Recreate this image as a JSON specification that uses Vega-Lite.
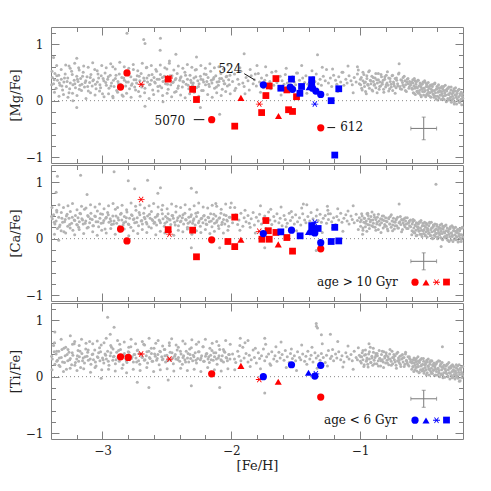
{
  "$schema": "https://vega.github.io/schema/vega-lite/v6.json",
  "padding": {"left": 8, "top": 26, "right": 10, "bottom": 10},
  "spacing": 2,
  "bounds": "flush",
  "resolve": {"legend": {"shape": "independent", "size": "independent"}},
  "config": {
    "view": {"stroke": "#808080", "strokeWidth": 1},
    "axis": {"domain": false, "grid": false, "tickColor": "#808080", "tickWidth": 1, "labelFont": "DejaVu Serif", "labelFontSize": 12, "labelColor": "#222222", "titleFont": "DejaVu Serif", "titleFontSize": 13, "titleFontWeight": "normal", "titleColor": "#222222"},
    "legend": {"columnPadding": 3, "rowPadding": 0, "labelOffset": 0, "symbolOffset": 0},
    "font": "DejaVu Serif"
  },
  "datasets": {
    "gray": [
      {"x":-3.39,"m":0.41,"c":0.35,"t":0.31},{"x":-3.38,"m":0.30,"c":0.42,"t":0.55},{"x":-3.37,"m":0.48,"c":0.26,"t":0.22},{"x":-3.36,"m":0.22,"c":0.31,"t":0.40},{"x":-3.35,"m":0.36,"c":0.18,"t":0.29},{"x":-3.34,"m":0.45,"c":0.38,"t":0.45},{"x":-3.33,"m":0.27,"c":0.24,"t":0.18},{"x":-3.32,"m":0.38,"c":0.46,"t":0.34},{"x":-3.31,"m":0.19,"c":0.29,"t":0.26},{"x":-3.30,"m":0.33,"c":0.12,"t":0.50},
      {"x":-3.29,"m":0.47,"c":0.34,"t":0.37},{"x":-3.28,"m":0.25,"c":0.40,"t":0.13},{"x":-3.27,"m":0.40,"c":0.22,"t":0.28},{"x":-3.26,"m":0.14,"c":0.36,"t":0.43},{"x":-3.25,"m":0.31,"c":0.48,"t":0.32},{"x":-3.24,"m":0.52,"c":0.27,"t":0.21},{"x":-3.23,"m":0.28,"c":0.15,"t":0.38},{"x":-3.22,"m":0.36,"c":0.33,"t":0.58},{"x":-3.21,"m":0.23,"c":0.41,"t":0.25},{"x":-3.20,"m":0.43,"c":0.25,"t":0.31},
      {"x":-3.19,"m":0.34,"c":0.37,"t":0.46},{"x":-3.185,"m":0.58,"c":0.20,"t":0.27},{"x":-3.18,"m":0.20,"c":0.30,"t":0.35},{"x":-3.17,"m":0.39,"c":0.44,"t":0.16},{"x":-3.16,"m":0.29,"c":0.35,"t":0.41},{"x":-3.15,"m":0.50,"c":0.26,"t":0.33},{"x":-3.14,"m":0.24,"c":0.52,"t":0.24},{"x":-3.13,"m":0.35,"c":0.31,"t":0.49},{"x":-3.12,"m":0.42,"c":0.19,"t":0.36},{"x":-3.11,"m":0.17,"c":0.39,"t":0.29},
      {"x":-3.10,"m":0.32,"c":0.28,"t":0.62},{"x":-3.09,"m":0.46,"c":0.45,"t":0.22},{"x":-3.08,"m":0.26,"c":0.34,"t":0.39},{"x":-3.07,"m":0.37,"c":0.23,"t":0.30},{"x":-3.06,"m":0.55,"c":0.40,"t":0.47},{"x":-3.05,"m":0.21,"c":0.30,"t":0.19},{"x":-3.04,"m":0.33,"c":0.49,"t":0.35},{"x":-3.03,"m":0.40,"c":0.21,"t":0.42},{"x":-3.02,"m":0.28,"c":0.36,"t":0.28},{"x":-3.01,"m":0.44,"c":0.27,"t":0.56},
      {"x":-3.00,"m":0.12,"c":0.43,"t":0.33},{"x":-2.99,"m":0.35,"c":0.32,"t":0.24},{"x":-2.98,"m":0.49,"c":0.17,"t":0.40},{"x":-2.97,"m":0.27,"c":0.38,"t":0.31},{"x":-2.96,"m":0.38,"c":0.46,"t":0.45},{"x":-2.95,"m":0.22,"c":0.29,"t":0.20},{"x":-2.94,"m":0.45,"c":0.35,"t":0.37},{"x":-2.93,"m":0.31,"c":0.25,"t":0.52},{"x":-2.92,"m":0.60,"c":0.40,"t":0.29},{"x":-2.91,"m":0.25,"c":0.31,"t":0.36},
      {"x":-2.90,"m":0.39,"c":0.52,"t":0.23},{"x":-2.89,"m":0.18,"c":0.27,"t":0.43},{"x":-2.88,"m":0.34,"c":0.37,"t":0.34},{"x":-2.87,"m":0.47,"c":0.22,"t":0.27},{"x":-2.86,"m":0.29,"c":0.43,"t":0.48},{"x":-2.85,"m":0.41,"c":0.33,"t":0.38},{"x":-2.84,"m":0.08,"c":0.24,"t":0.21},{"x":-2.83,"m":0.36,"c":0.39,"t":0.41},{"x":-2.82,"m":0.26,"c":0.30,"t":0.32},{"x":-2.81,"m":0.51,"c":0.47,"t":0.25},
      {"x":-2.80,"m":0.33,"c":0.26,"t":0.44},{"x":-2.79,"m":0.21,"c":0.36,"t":0.30},{"x":-2.78,"m":0.42,"c":0.20,"t":0.53},{"x":-2.77,"m":0.30,"c":0.41,"t":0.35},{"x":-2.76,"m":0.55,"c":0.34,"t":0.26},{"x":-2.75,"m":0.24,"c":0.28,"t":0.39},{"x":-2.74,"m":0.37,"c":0.50,"t":0.33},{"x":-2.73,"m":0.44,"c":0.37,"t":0.46},{"x":-2.72,"m":0.16,"c":0.23,"t":0.28},{"x":-2.71,"m":0.35,"c":0.42,"t":0.22},
      {"x":-2.70,"m":0.48,"c":0.31,"t":0.40},{"x":-2.69,"m":0.27,"c":0.26,"t":0.34},{"x":-2.68,"m":0.40,"c":0.45,"t":0.57},{"x":-2.67,"m":0.22,"c":0.35,"t":0.30},{"x":-2.66,"m":0.58,"c":0.29,"t":0.37},{"x":-2.65,"m":0.33,"c":0.40,"t":0.24},{"x":-2.64,"m":0.45,"c":0.21,"t":0.45},{"x":-2.63,"m":0.29,"c":0.36,"t":0.32},{"x":-2.62,"m":0.36,"c":0.48,"t":0.41},{"x":-2.61,"m":0.19,"c":0.32,"t":0.27},
      {"x":-2.60,"m":0.41,"c":0.27,"t":0.50},{"x":-2.59,"m":0.31,"c":0.38,"t":0.36},{"x":-2.58,"m":0.52,"c":0.24,"t":0.29},{"x":-2.57,"m":0.25,"c":0.43,"t":0.39},{"x":-2.56,"m":0.38,"c":0.33,"t":0.21},{"x":-2.55,"m":0.46,"c":0.28,"t":0.44},{"x":-2.54,"m":0.23,"c":0.51,"t":0.35},{"x":-2.53,"m":0.34,"c":0.35,"t":0.31},{"x":-2.52,"m":0.43,"c":0.22,"t":0.48},{"x":-2.51,"m":0.30,"c":0.39,"t":0.26},
      {"x":-2.50,"m":0.56,"c":0.30,"t":0.38},{"x":-2.49,"m":0.20,"c":0.44,"t":0.33},{"x":-2.48,"m":0.37,"c":0.34,"t":0.55},{"x":-2.47,"m":0.28,"c":0.25,"t":0.29},{"x":-2.46,"m":0.44,"c":0.41,"t":0.42},{"x":-2.45,"m":0.33,"c":0.36,"t":0.23},{"x":-2.44,"m":0.15,"c":0.29,"t":0.36},{"x":-2.43,"m":0.39,"c":0.47,"t":0.31},{"x":-2.42,"m":0.48,"c":0.32,"t":0.47},{"x":-2.41,"m":0.26,"c":0.23,"t":0.34},
      {"x":-2.40,"m":0.36,"c":0.40,"t":0.27},{"x":-2.39,"m":0.42,"c":0.31,"t":0.40},{"x":-2.38,"m":0.24,"c":0.37,"t":0.22},{"x":-2.37,"m":0.33,"c":0.26,"t":0.37},{"x":-2.36,"m":0.50,"c":0.45,"t":0.30},{"x":-2.35,"m":0.29,"c":0.33,"t":0.45},{"x":-2.34,"m":0.38,"c":0.20,"t":0.33},{"x":-2.33,"m":0.21,"c":0.38,"t":0.26},{"x":-2.32,"m":0.45,"c":0.30,"t":0.39},{"x":-2.31,"m":0.32,"c":0.42,"t":0.51},
      {"x":-2.30,"m":0.27,"c":0.27,"t":0.28},{"x":-2.29,"m":0.40,"c":0.35,"t":0.35},{"x":-2.28,"m":0.54,"c":0.24,"t":0.42},{"x":-2.27,"m":0.23,"c":0.39,"t":0.24},{"x":-2.26,"m":0.35,"c":0.46,"t":0.32},{"x":-2.25,"m":0.30,"c":0.31,"t":0.44},{"x":-2.24,"m":0.43,"c":0.22,"t":0.30},{"x":-2.23,"m":0.18,"c":0.36,"t":0.37},{"x":-2.22,"m":0.37,"c":0.28,"t":0.53},{"x":-2.21,"m":0.47,"c":0.41,"t":0.27},
      {"x":-2.20,"m":0.28,"c":0.33,"t":0.36},{"x":-2.19,"m":0.34,"c":0.25,"t":0.41},{"x":-2.18,"m":0.41,"c":0.38,"t":0.31},{"x":-2.17,"m":0.25,"c":0.30,"t":0.25},{"x":-2.16,"m":0.52,"c":0.44,"t":0.38},{"x":-2.15,"m":0.31,"c":0.21,"t":0.46},{"x":-2.14,"m":0.38,"c":0.35,"t":0.29},{"x":-2.13,"m":0.22,"c":0.27,"t":0.35},{"x":-2.12,"m":0.44,"c":0.40,"t":0.42},{"x":-2.11,"m":0.33,"c":0.32,"t":0.22},
      {"x":-2.10,"m":0.27,"c":0.23,"t":0.33},{"x":-2.09,"m":0.39,"c":0.37,"t":0.48},{"x":-2.08,"m":0.48,"c":0.45,"t":0.30},{"x":-2.07,"m":0.20,"c":0.29,"t":0.37},{"x":-2.06,"m":0.35,"c":0.34,"t":0.26},{"x":-2.05,"m":0.30,"c":0.26,"t":0.43},{"x":-2.04,"m":0.42,"c":0.41,"t":0.34},{"x":-2.03,"m":0.26,"c":0.31,"t":0.28},{"x":-2.02,"m":0.37,"c":0.22,"t":0.39},{"x":-2.01,"m":0.45,"c":0.38,"t":0.31},
      {"x":-3.395,"m":0.28,"c":0.39,"t":0.36},{"x":-3.375,"m":0.37,"c":0.29,"t":0.44},{"x":-3.355,"m":0.44,"c":0.47,"t":0.27},{"x":-3.335,"m":0.31,"c":0.21,"t":0.33},{"x":-3.315,"m":0.26,"c":0.36,"t":0.48},{"x":-3.295,"m":0.40,"c":0.30,"t":0.25},{"x":-3.275,"m":0.34,"c":0.43,"t":0.39},{"x":-3.255,"m":0.21,"c":0.25,"t":0.30},{"x":-3.235,"m":0.46,"c":0.38,"t":0.42},{"x":-3.215,"m":0.30,"c":0.32,"t":0.20},
      {"x":-3.195,"m":0.38,"c":0.24,"t":0.37},{"x":-3.175,"m":0.27,"c":0.45,"t":0.45},{"x":-3.155,"m":0.43,"c":0.33,"t":0.28},{"x":-3.135,"m":0.32,"c":0.27,"t":0.35},{"x":-3.115,"m":0.25,"c":0.41,"t":0.43},{"x":-3.095,"m":0.41,"c":0.35,"t":0.31},{"x":-3.075,"m":0.35,"c":0.23,"t":0.40},{"x":-3.055,"m":0.29,"c":0.39,"t":0.26},{"x":-3.035,"m":0.47,"c":0.30,"t":0.34},{"x":-3.015,"m":0.23,"c":0.44,"t":0.44},
      {"x":-2.995,"m":0.39,"c":0.28,"t":0.30},{"x":-2.975,"m":0.32,"c":0.36,"t":0.38},{"x":-2.955,"m":0.42,"c":0.42,"t":0.27},{"x":-2.935,"m":0.26,"c":0.31,"t":0.42},{"x":-2.915,"m":0.36,"c":0.26,"t":0.35},{"x":-2.895,"m":0.45,"c":0.40,"t":0.30},{"x":-2.875,"m":0.30,"c":0.33,"t":0.46},{"x":-2.855,"m":0.23,"c":0.45,"t":0.33},{"x":-2.835,"m":0.40,"c":0.28,"t":0.37},{"x":-2.815,"m":0.33,"c":0.37,"t":0.28},
      {"x":-2.795,"m":0.48,"c":0.25,"t":0.43},{"x":-2.775,"m":0.27,"c":0.42,"t":0.32},{"x":-2.755,"m":0.37,"c":0.35,"t":0.39},{"x":-2.735,"m":0.31,"c":0.29,"t":0.26},{"x":-2.715,"m":0.43,"c":0.46,"t":0.41},{"x":-2.695,"m":0.24,"c":0.32,"t":0.35},{"x":-2.675,"m":0.35,"c":0.38,"t":0.29},{"x":-2.655,"m":0.40,"c":0.26,"t":0.44},{"x":-2.635,"m":0.28,"c":0.43,"t":0.34},{"x":-2.615,"m":0.46,"c":0.34,"t":0.27},
      {"x":-2.595,"m":0.33,"c":0.29,"t":0.40},{"x":-2.575,"m":0.38,"c":0.40,"t":0.32},{"x":-2.555,"m":0.26,"c":0.31,"t":0.45},{"x":-2.535,"m":0.41,"c":0.44,"t":0.30},{"x":-2.515,"m":0.35,"c":0.27,"t":0.37},{"x":-2.495,"m":0.29,"c":0.36,"t":0.28},{"x":-2.475,"m":0.44,"c":0.33,"t":0.43},{"x":-2.455,"m":0.32,"c":0.41,"t":0.33},{"x":-2.435,"m":0.37,"c":0.24,"t":0.39},{"x":-2.415,"m":0.22,"c":0.37,"t":0.30},
      {"x":-2.395,"m":0.40,"c":0.30,"t":0.45},{"x":-2.375,"m":0.34,"c":0.42,"t":0.34},{"x":-2.355,"m":0.45,"c":0.34,"t":0.26},{"x":-2.335,"m":0.27,"c":0.27,"t":0.41},{"x":-2.315,"m":0.36,"c":0.39,"t":0.32},{"x":-2.295,"m":0.31,"c":0.32,"t":0.38},{"x":-2.275,"m":0.42,"c":0.45,"t":0.29},{"x":-2.255,"m":0.25,"c":0.28,"t":0.44},{"x":-2.235,"m":0.38,"c":0.35,"t":0.33},{"x":-2.215,"m":0.33,"c":0.40,"t":0.27},
      {"x":-2.195,"m":0.46,"c":0.26,"t":0.40},{"x":-2.175,"m":0.29,"c":0.37,"t":0.35},{"x":-2.155,"m":0.36,"c":0.31,"t":0.30},{"x":-2.135,"m":0.41,"c":0.43,"t":0.42},{"x":-2.115,"m":0.24,"c":0.29,"t":0.31},{"x":-2.095,"m":0.34,"c":0.36,"t":0.37},{"x":-2.075,"m":0.39,"c":0.25,"t":0.28},{"x":-2.055,"m":0.30,"c":0.42,"t":0.45},{"x":-2.035,"m":0.43,"c":0.33,"t":0.33},{"x":-2.015,"m":0.28,"c":0.38,"t":0.39},
      {"x":-3.392,"m":0.52,"c":0.55,"t":0.12},{"x":-3.373,"m":0.15,"c":0.08,"t":0.60},{"x":-3.356,"m":0.62,"c":0.50,"t":0.45},{"x":-3.338,"m":0.08,"c":0.60,"t":0.20},{"x":-3.321,"m":0.55,"c":0.14,"t":0.66},{"x":-3.303,"m":0.11,"c":0.55,"t":0.09},{"x":-3.286,"m":0.63,"c":0.10,"t":0.52},{"x":-3.268,"m":0.06,"c":0.58,"t":0.48},{"x":-3.251,"m":0.57,"c":0.19,"t":0.15},{"x":-3.233,"m":0.13,"c":0.62,"t":0.57},
      {"x":-3.216,"m":0.66,"c":0.07,"t":0.62},{"x":-3.198,"m":0.09,"c":0.51,"t":0.11},{"x":-3.181,"m":0.54,"c":0.16,"t":0.55},{"x":-3.163,"m":0.18,"c":0.57,"t":0.66},{"x":-3.146,"m":0.61,"c":0.09,"t":0.14},{"x":-3.128,"m":0.04,"c":0.54,"t":0.59},{"x":-3.111,"m":0.59,"c":0.20,"t":0.47},{"x":-3.093,"m":0.14,"c":0.60,"t":0.08},{"x":-3.076,"m":0.67,"c":0.12,"t":0.58},{"x":-3.058,"m":0.10,"c":0.56,"t":0.16},
      {"x":-3.041,"m":0.53,"c":0.06,"t":0.63},{"x":-3.023,"m":0.17,"c":0.61,"t":0.51},{"x":-3.006,"m":0.62,"c":0.15,"t":0.12},{"x":-2.988,"m":0.07,"c":0.53,"t":0.60},{"x":-2.971,"m":0.58,"c":0.10,"t":0.68},{"x":-2.953,"m":0.12,"c":0.58,"t":0.13},{"x":-2.936,"m":0.65,"c":0.18,"t":0.55},{"x":-2.918,"m":0.05,"c":0.62,"t":0.49},{"x":-2.901,"m":0.56,"c":0.08,"t":0.10},{"x":-2.883,"m":0.15,"c":0.55,"t":0.64},
      {"x":-2.866,"m":0.68,"c":0.13,"t":0.57},{"x":-2.848,"m":0.10,"c":0.59,"t":0.15},{"x":-2.831,"m":0.60,"c":0.17,"t":0.61},{"x":-2.813,"m":0.13,"c":0.51,"t":0.07},{"x":-2.796,"m":0.57,"c":0.05,"t":0.52},{"x":-2.778,"m":0.06,"c":0.63,"t":0.66},{"x":-2.761,"m":0.64,"c":0.14,"t":0.13},{"x":-2.743,"m":0.19,"c":0.57,"t":0.58},{"x":-2.726,"m":0.53,"c":0.09,"t":0.47},{"x":-2.708,"m":0.08,"c":0.60,"t":0.11},
      {"x":-2.691,"m":0.66,"c":0.16,"t":0.62},{"x":-2.673,"m":0.14,"c":0.54,"t":0.56},{"x":-2.656,"m":0.59,"c":0.11,"t":0.16},{"x":-2.638,"m":0.04,"c":0.58,"t":0.68},{"x":-2.621,"m":0.62,"c":0.19,"t":0.50},{"x":-2.603,"m":0.11,"c":0.62,"t":0.09},{"x":-2.586,"m":0.55,"c":0.07,"t":0.59},{"x":-2.568,"m":0.17,"c":0.56,"t":0.64},{"x":-2.551,"m":0.63,"c":0.13,"t":0.12},{"x":-2.533,"m":0.09,"c":0.59,"t":0.54},
      {"x":-2.516,"m":0.58,"c":0.10,"t":0.48},{"x":-2.498,"m":0.13,"c":0.53,"t":0.14},{"x":-2.481,"m":0.66,"c":0.18,"t":0.60},{"x":-2.463,"m":0.07,"c":0.61,"t":0.67},{"x":-2.446,"m":0.54,"c":0.06,"t":0.10},{"x":-2.428,"m":0.16,"c":0.57,"t":0.56},{"x":-2.411,"m":0.61,"c":0.15,"t":0.52},{"x":-2.393,"m":0.10,"c":0.55,"t":0.15},{"x":-2.376,"m":0.57,"c":0.12,"t":0.63},{"x":-2.358,"m":0.05,"c":0.60,"t":0.58},
      {"x":-2.341,"m":0.64,"c":0.17,"t":0.11},{"x":-2.323,"m":0.12,"c":0.52,"t":0.49},{"x":-2.306,"m":0.59,"c":0.08,"t":0.65},{"x":-2.288,"m":0.15,"c":0.58,"t":0.13},{"x":-2.271,"m":0.55,"c":0.14,"t":0.57},{"x":-2.253,"m":0.08,"c":0.63,"t":0.61},{"x":-2.236,"m":0.62,"c":0.11,"t":0.09},{"x":-2.218,"m":0.18,"c":0.56,"t":0.53},{"x":-2.201,"m":0.57,"c":0.16,"t":0.66},{"x":-2.183,"m":0.11,"c":0.54,"t":0.16},
      {"x":-2.166,"m":0.65,"c":0.09,"t":0.50},{"x":-2.148,"m":0.06,"c":0.59,"t":0.59},{"x":-2.131,"m":0.58,"c":0.13,"t":0.12},{"x":-2.113,"m":0.14,"c":0.57,"t":0.62},{"x":-2.096,"m":0.60,"c":0.18,"t":0.55},{"x":-2.078,"m":0.09,"c":0.52,"t":0.10},{"x":-2.061,"m":0.56,"c":0.10,"t":0.48},{"x":-2.043,"m":0.16,"c":0.61,"t":0.64},{"x":-2.026,"m":0.63,"c":0.15,"t":0.14},{"x":-2.008,"m":0.12,"c":0.55,"t":0.57},
      {"x":-1.99,"m":0.34,"c":0.28,"t":0.40},{"x":-1.975,"m":0.47,"c":0.36,"t":0.31},{"x":-1.965,"m":0.22,"c":0.42,"t":0.25},{"x":-1.95,"m":0.38,"c":0.25,"t":0.45},{"x":-1.94,"m":0.29,"c":0.33,"t":0.36},{"x":-1.925,"m":0.52,"c":0.45,"t":0.28},{"x":-1.91,"m":0.31,"c":0.22,"t":0.52},{"x":-1.90,"m":0.25,"c":0.37,"t":0.33},{"x":-1.885,"m":0.41,"c":0.30,"t":0.41},{"x":-1.87,"m":0.35,"c":0.41,"t":0.26},
      {"x":-1.86,"m":0.19,"c":0.27,"t":0.38},{"x":-1.845,"m":0.44,"c":0.35,"t":0.30},{"x":-1.83,"m":0.30,"c":0.46,"t":0.47},{"x":-1.82,"m":0.37,"c":0.24,"t":0.34},{"x":-1.805,"m":0.26,"c":0.38,"t":0.24},{"x":-1.79,"m":0.48,"c":0.31,"t":0.42},{"x":-1.78,"m":0.33,"c":0.43,"t":0.32},{"x":-1.765,"m":0.40,"c":0.26,"t":0.37},{"x":-1.75,"m":0.23,"c":0.35,"t":0.49},{"x":-1.74,"m":0.36,"c":0.40,"t":0.28},
      {"x":-1.725,"m":0.45,"c":0.29,"t":0.35},{"x":-1.71,"m":0.28,"c":0.47,"t":0.40},{"x":-1.70,"m":0.34,"c":0.33,"t":0.23},{"x":-1.685,"m":0.50,"c":0.25,"t":0.44},{"x":-1.67,"m":0.27,"c":0.39,"t":0.31},{"x":-1.66,"m":0.39,"c":0.31,"t":0.37},{"x":-1.645,"m":0.32,"c":0.44,"t":0.27},{"x":-1.63,"m":0.21,"c":0.28,"t":0.43},{"x":-1.62,"m":0.43,"c":0.36,"t":0.33},{"x":-1.605,"m":0.35,"c":0.23,"t":0.39},
      {"x":-1.59,"m":0.29,"c":0.41,"t":0.29},{"x":-1.58,"m":0.46,"c":0.34,"t":0.46},{"x":-1.565,"m":0.31,"c":0.27,"t":0.35},{"x":-1.55,"m":0.38,"c":0.45,"t":0.25},{"x":-1.54,"m":0.24,"c":0.32,"t":0.41},{"x":-1.525,"m":0.42,"c":0.38,"t":0.32},{"x":-1.51,"m":0.33,"c":0.26,"t":0.37},{"x":-1.50,"m":0.28,"c":0.42,"t":0.28},{"x":-1.485,"m":0.49,"c":0.30,"t":0.44},{"x":-1.47,"m":0.36,"c":0.37,"t":0.34},
      {"x":-1.46,"m":0.26,"c":0.24,"t":0.30},{"x":-1.445,"m":0.40,"c":0.44,"t":0.40},{"x":-1.43,"m":0.32,"c":0.33,"t":0.27},{"x":-1.42,"m":0.44,"c":0.28,"t":0.36},{"x":-1.405,"m":0.29,"c":0.39,"t":0.45},{"x":-1.39,"m":0.37,"c":0.31,"t":0.31},{"x":-1.38,"m":0.23,"c":0.46,"t":0.38},{"x":-1.365,"m":0.41,"c":0.35,"t":0.26},{"x":-1.35,"m":0.34,"c":0.25,"t":0.42},{"x":-1.34,"m":0.47,"c":0.40,"t":0.33},
      {"x":-1.325,"m":0.30,"c":0.32,"t":0.37},{"x":-1.31,"m":0.38,"c":0.43,"t":0.29},{"x":-1.30,"m":0.27,"c":0.29,"t":0.41},{"x":-1.285,"m":0.43,"c":0.36,"t":0.34},{"x":-1.27,"m":0.35,"c":0.41,"t":0.25},{"x":-1.26,"m":0.55,"c":0.27,"t":0.38},{"x":-1.245,"m":0.31,"c":0.34,"t":0.46},{"x":-1.23,"m":0.40,"c":0.44,"t":0.32},{"x":-1.22,"m":0.25,"c":0.30,"t":0.36},{"x":-1.205,"m":0.45,"c":0.37,"t":0.28},
      {"x":-1.19,"m":0.36,"c":0.25,"t":0.40},{"x":-1.18,"m":0.29,"c":0.39,"t":0.33},{"x":-1.165,"m":0.42,"c":0.33,"t":0.44},{"x":-1.15,"m":0.33,"c":0.45,"t":0.30},{"x":-1.14,"m":0.50,"c":0.29,"t":0.37},{"x":-1.125,"m":0.27,"c":0.36,"t":0.26},{"x":-1.11,"m":0.38,"c":0.42,"t":0.42},{"x":-1.10,"m":0.31,"c":0.31,"t":0.35},{"x":-1.085,"m":0.44,"c":0.26,"t":0.31},{"x":-1.07,"m":0.35,"c":0.40,"t":0.39},
      {"x":-1.06,"m":0.28,"c":0.34,"t":0.28},{"x":-1.045,"m":0.41,"c":0.28,"t":0.45},{"x":-1.03,"m":0.33,"c":0.43,"t":0.34},{"x":-1.02,"m":0.47,"c":0.32,"t":0.30},{"x":-1.005,"m":0.30,"c":0.37,"t":0.38},
      {"x":-1.973,"m":0.18,"c":0.55,"t":0.12},{"x":-1.933,"m":0.58,"c":0.15,"t":0.55},{"x":-1.893,"m":0.12,"c":0.50,"t":0.60},{"x":-1.853,"m":0.55,"c":0.20,"t":0.18},{"x":-1.813,"m":0.47,"c":0.10,"t":0.50},{"x":-1.773,"m":0.15,"c":0.58,"t":0.14},{"x":-1.733,"m":0.60,"c":0.18,"t":0.57},{"x":-1.693,"m":0.21,"c":0.52,"t":0.20},{"x":-1.653,"m":0.52,"c":0.12,"t":0.53},{"x":-1.613,"m":0.10,"c":0.56,"t":0.61},
      {"x":-1.573,"m":0.57,"c":0.21,"t":0.16},{"x":-1.533,"m":0.17,"c":0.48,"t":0.49},{"x":-1.493,"m":0.49,"c":0.14,"t":0.11},{"x":-1.453,"m":0.62,"c":0.54,"t":0.56},{"x":-1.413,"m":0.13,"c":0.60,"t":0.22},{"x":-1.373,"m":0.53,"c":0.17,"t":0.52},{"x":-1.333,"m":0.20,"c":0.51,"t":0.15},{"x":-1.293,"m":0.59,"c":0.11,"t":0.58},{"x":-1.253,"m":0.11,"c":0.57,"t":0.19},{"x":-1.213,"m":0.56,"c":0.19,"t":0.48},
      {"x":-1.173,"m":0.16,"c":0.53,"t":0.62},{"x":-1.133,"m":0.50,"c":0.13,"t":0.17},{"x":-1.093,"m":0.61,"c":0.49,"t":0.54},{"x":-1.053,"m":0.14,"c":0.58,"t":0.13},{"x":-1.013,"m":0.54,"c":0.16,"t":0.51},
      {"x":-0.995,"m":0.28,"c":0.22,"t":0.35},{"x":-0.99,"m":0.41,"c":0.33,"t":0.24},{"x":-0.983,"m":0.19,"c":0.40,"t":0.42},{"x":-0.977,"m":0.35,"c":0.15,"t":0.30},{"x":-0.97,"m":0.46,"c":0.29,"t":0.18},{"x":-0.965,"m":0.25,"c":0.36,"t":0.38},{"x":-0.958,"m":0.33,"c":0.21,"t":0.47},{"x":-0.951,"m":0.12,"c":0.31,"t":0.27},{"x":-0.946,"m":0.39,"c":0.44,"t":0.33},{"x":-0.94,"m":0.29,"c":0.25,"t":0.22},
      {"x":-0.933,"m":0.51,"c":0.35,"t":0.40},{"x":-0.927,"m":0.22,"c":0.18,"t":0.31},{"x":-0.92,"m":0.36,"c":0.30,"t":0.52},{"x":-0.915,"m":0.30,"c":0.39,"t":0.25},{"x":-0.908,"m":0.43,"c":0.23,"t":0.36},{"x":-0.901,"m":0.17,"c":0.33,"t":0.20},{"x":-0.896,"m":0.34,"c":0.27,"t":0.43},{"x":-0.89,"m":0.27,"c":0.42,"t":0.29},{"x":-0.883,"m":0.40,"c":0.20,"t":0.34},{"x":-0.877,"m":0.23,"c":0.34,"t":0.41},
      {"x":-0.87,"m":0.37,"c":0.26,"t":0.23},{"x":-0.865,"m":0.31,"c":0.38,"t":0.37},{"x":-0.858,"m":0.48,"c":0.16,"t":0.28},{"x":-0.851,"m":0.20,"c":0.31,"t":0.46},{"x":-0.846,"m":0.33,"c":0.24,"t":0.32},{"x":-0.84,"m":0.26,"c":0.35,"t":0.19},{"x":-0.833,"m":0.42,"c":0.28,"t":0.39},{"x":-0.827,"m":0.29,"c":0.40,"t":0.30},{"x":-0.82,"m":0.36,"c":0.19,"t":0.26},{"x":-0.815,"m":0.15,"c":0.32,"t":0.44},
      {"x":-0.808,"m":0.38,"c":0.25,"t":0.33},{"x":-0.801,"m":0.24,"c":0.37,"t":0.24},{"x":-0.796,"m":0.45,"c":0.22,"t":0.38},{"x":-0.79,"m":0.31,"c":0.30,"t":0.29},{"x":-0.783,"m":0.27,"c":0.14,"t":0.35},{"x":-0.777,"m":0.40,"c":0.35,"t":0.21},{"x":-0.77,"m":0.21,"c":0.26,"t":0.40},{"x":-0.765,"m":0.34,"c":0.39,"t":0.31},{"x":-0.758,"m":0.29,"c":0.20,"t":0.27},{"x":-0.751,"m":0.44,"c":0.31,"t":0.45},
      {"x":-0.746,"m":0.18,"c":0.24,"t":0.23},{"x":-0.74,"m":0.33,"c":0.36,"t":0.34},{"x":-0.733,"m":0.26,"c":0.17,"t":0.30},{"x":-0.727,"m":0.39,"c":0.29,"t":0.37},{"x":-0.72,"m":0.23,"c":0.33,"t":0.20},{"x":-0.715,"m":0.36,"c":0.23,"t":0.41},{"x":-0.708,"m":0.30,"c":0.38,"t":0.28},{"x":-0.701,"m":0.47,"c":0.19,"t":0.33},{"x":-0.696,"m":0.65,"c":0.61,"t":0.25},{"x":-0.69,"m":0.25,"c":0.30,"t":0.36},
      {"x":-0.683,"m":0.37,"c":0.25,"t":0.18},{"x":-0.677,"m":0.20,"c":0.34,"t":0.31},{"x":-0.67,"m":0.32,"c":0.16,"t":0.39},{"x":-0.665,"m":0.41,"c":0.28,"t":0.26},{"x":-0.658,"m":0.24,"c":0.35,"t":0.34},{"x":-0.651,"m":0.35,"c":0.21,"t":0.22},{"x":-0.646,"m":0.28,"c":0.31,"t":0.43},{"x":-0.64,"m":0.16,"c":0.26,"t":0.29},{"x":-0.633,"m":0.38,"c":0.37,"t":0.24},{"x":-0.627,"m":0.30,"c":0.18,"t":0.35},
      {"x":-0.62,"m":0.22,"c":0.29,"t":0.19},{"x":-0.615,"m":0.34,"c":0.23,"t":0.32},{"x":-0.608,"m":0.27,"c":0.33,"t":0.26},
      {"x":-0.997,"m":0.38,"c":0.30,"t":0.27},{"x":-0.987,"m":0.22,"c":0.44,"t":0.35},{"x":-0.977,"m":0.50,"c":0.19,"t":0.46},{"x":-0.967,"m":0.31,"c":0.36,"t":0.21},{"x":-0.957,"m":0.16,"c":0.27,"t":0.39},{"x":-0.947,"m":0.44,"c":0.13,"t":0.30},{"x":-0.937,"m":0.27,"c":0.41,"t":0.17},{"x":-0.927,"m":0.53,"c":0.24,"t":0.44},{"x":-0.917,"m":0.35,"c":0.33,"t":0.25},{"x":-0.907,"m":0.19,"c":0.47,"t":0.33},
      {"x":-0.897,"m":0.41,"c":0.21,"t":0.50},{"x":-0.887,"m":0.29,"c":0.38,"t":0.23},{"x":-0.877,"m":0.48,"c":0.15,"t":0.37},{"x":-0.867,"m":0.14,"c":0.29,"t":0.41},{"x":-0.857,"m":0.37,"c":0.43,"t":0.19},{"x":-0.847,"m":0.25,"c":0.25,"t":0.32},{"x":-0.837,"m":0.46,"c":0.11,"t":0.28},{"x":-0.827,"m":0.32,"c":0.34,"t":0.45},{"x":-0.817,"m":0.20,"c":0.40,"t":0.16},{"x":-0.807,"m":0.42,"c":0.22,"t":0.36},
      {"x":-0.797,"m":0.28,"c":0.31,"t":0.42},{"x":-0.787,"m":0.51,"c":0.17,"t":0.24},{"x":-0.777,"m":0.17,"c":0.37,"t":0.31},{"x":-0.767,"m":0.39,"c":0.26,"t":0.48},{"x":-0.757,"m":0.24,"c":0.42,"t":0.20},{"x":-0.747,"m":0.45,"c":0.14,"t":0.34},{"x":-0.737,"m":0.30,"c":0.30,"t":0.39},{"x":-0.727,"m":0.13,"c":0.23,"t":0.26},{"x":-0.717,"m":0.40,"c":0.35,"t":0.15},{"x":-0.707,"m":0.26,"c":0.19,"t":0.43},
      {"x":-0.697,"m":0.49,"c":0.28,"t":0.29},{"x":-0.687,"m":0.21,"c":0.39,"t":0.22},{"x":-0.677,"m":0.36,"c":0.12,"t":0.38},{"x":-0.667,"m":0.27,"c":0.33,"t":0.33},{"x":-0.657,"m":0.43,"c":0.24,"t":0.18},{"x":-0.647,"m":0.18,"c":0.37,"t":0.40},{"x":-0.637,"m":0.33,"c":0.18,"t":0.27},{"x":-0.627,"m":0.39,"c":0.27,"t":0.21},{"x":-0.617,"m":0.24,"c":0.31,"t":0.35},{"x":-0.607,"m":0.30,"c":0.21,"t":0.30},
      {"x":-0.598,"m":0.33,"c":0.07,"t":0.13},{"x":-0.594,"m":0.20,"c":0.26,"t":0.26},{"x":-0.590,"m":0.37,"c":0.30,"t":0.18},{"x":-0.586,"m":0.14,"c":0.12,"t":0.30},{"x":-0.582,"m":0.26,"c":0.19,"t":0.09},{"x":-0.578,"m":0.39,"c":0.32,"t":0.24},{"x":-0.574,"m":0.22,"c":0.10,"t":0.20},{"x":-0.570,"m":0.11,"c":0.23,"t":0.29},{"x":-0.566,"m":0.29,"c":0.15,"t":0.16},{"x":-0.562,"m":0.33,"c":0.28,"t":0.32},
      {"x":-0.558,"m":0.16,"c":0.06,"t":0.10},{"x":-0.554,"m":0.23,"c":0.21,"t":0.22},{"x":-0.550,"m":0.36,"c":0.17,"t":0.35},{"x":-0.546,"m":0.13,"c":0.26,"t":0.18},{"x":-0.542,"m":0.26,"c":0.13,"t":0.07},{"x":-0.538,"m":0.18,"c":0.30,"t":0.25},{"x":-0.534,"m":0.31,"c":0.08,"t":0.29},{"x":-0.530,"m":0.10,"c":0.19,"t":0.12},{"x":-0.526,"m":0.24,"c":0.32,"t":0.19},{"x":-0.522,"m":0.20,"c":0.15,"t":0.32},
      {"x":-0.518,"m":0.29,"c":0.04,"t":0.10},{"x":-0.514,"m":0.16,"c":0.23,"t":0.22},{"x":-0.510,"m":0.33,"c":0.27,"t":0.14},{"x":-0.506,"m":0.10,"c":0.09,"t":0.27},{"x":-0.502,"m":0.22,"c":0.16,"t":0.06},{"x":-0.498,"m":0.35,"c":0.29,"t":0.21},{"x":-0.494,"m":0.18,"c":0.07,"t":0.16},{"x":-0.490,"m":0.07,"c":0.20,"t":0.25},{"x":-0.486,"m":0.25,"c":0.12,"t":0.12},{"x":-0.482,"m":0.29,"c":0.25,"t":0.29},
      {"x":-0.478,"m":0.12,"c":0.03,"t":0.07},{"x":-0.474,"m":0.19,"c":0.18,"t":0.19},{"x":-0.470,"m":0.32,"c":0.14,"t":0.31},{"x":-0.466,"m":0.09,"c":0.23,"t":0.14},{"x":-0.462,"m":0.22,"c":0.10,"t":0.03},{"x":-0.458,"m":0.14,"c":0.27,"t":0.22},{"x":-0.454,"m":0.27,"c":0.05,"t":0.26},{"x":-0.450,"m":0.06,"c":0.16,"t":0.09},{"x":-0.446,"m":0.20,"c":0.29,"t":0.15},{"x":-0.442,"m":0.16,"c":0.12,"t":0.28},
      {"x":-0.438,"m":0.25,"c":0.01,"t":0.06},{"x":-0.434,"m":0.12,"c":0.20,"t":0.19},{"x":-0.430,"m":0.29,"c":0.24,"t":0.11},{"x":-0.426,"m":0.06,"c":0.06,"t":0.24},{"x":-0.422,"m":0.18,"c":0.13,"t":0.02},{"x":-0.418,"m":0.31,"c":0.26,"t":0.17},{"x":-0.414,"m":0.14,"c":0.04,"t":0.13},{"x":-0.410,"m":0.03,"c":0.17,"t":0.22},{"x":-0.406,"m":0.21,"c":0.09,"t":0.09},{"x":-0.402,"m":0.25,"c":0.22,"t":0.26},
      {"x":-0.398,"m":0.08,"c":0.00,"t":0.03},{"x":-0.394,"m":0.15,"c":0.15,"t":0.15},{"x":-0.390,"m":0.28,"c":0.11,"t":0.28},{"x":-0.386,"m":0.05,"c":0.20,"t":0.11},{"x":-0.382,"m":0.18,"c":0.07,"t":0.00},{"x":-0.378,"m":0.10,"c":0.24,"t":0.19},{"x":-0.374,"m":0.23,"c":0.02,"t":0.22},{"x":-0.370,"m":0.02,"c":0.13,"t":0.05},{"x":-0.366,"m":0.16,"c":0.26,"t":0.12},{"x":-0.362,"m":0.12,"c":0.09,"t":0.25},
      {"x":-0.358,"m":0.21,"c":-0.02,"t":0.03},{"x":-0.354,"m":0.08,"c":0.17,"t":0.16},{"x":-0.350,"m":0.25,"c":0.21,"t":0.07},{"x":-0.346,"m":0.02,"c":0.03,"t":0.20},{"x":-0.342,"m":0.14,"c":0.10,"t":-0.01},{"x":-0.338,"m":0.27,"c":0.23,"t":0.14},{"x":-0.334,"m":0.10,"c":0.01,"t":0.10},{"x":-0.330,"m":-0.02,"c":0.14,"t":0.19},{"x":-0.326,"m":0.17,"c":0.06,"t":0.05},{"x":-0.322,"m":0.21,"c":0.19,"t":0.22},
      {"x":-0.318,"m":0.04,"c":-0.03,"t":0.00},{"x":-0.314,"m":0.11,"c":0.12,"t":0.12},{"x":-0.310,"m":0.24,"c":0.08,"t":0.25},{"x":-0.306,"m":0.01,"c":0.17,"t":0.07},{"x":-0.302,"m":0.14,"c":0.04,"t":-0.04},{"x":-0.298,"m":0.06,"c":0.21,"t":0.15},{"x":-0.294,"m":0.19,"c":-0.02,"t":0.19},{"x":-0.290,"m":-0.03,"c":0.10,"t":0.02},{"x":-0.286,"m":0.12,"c":0.23,"t":0.09},{"x":-0.282,"m":0.08,"c":0.06,"t":0.21},
      {"x":-0.278,"m":0.17,"c":-0.05,"t":-0.01},{"x":-0.274,"m":0.04,"c":0.14,"t":0.12},{"x":-0.270,"m":0.21,"c":0.18,"t":0.04},{"x":-0.266,"m":-0.02,"c":0.00,"t":0.17},{"x":-0.262,"m":0.10,"c":0.07,"t":-0.04},{"x":-0.258,"m":0.23,"c":0.20,"t":0.10},{"x":-0.254,"m":0.06,"c":-0.02,"t":0.06},{"x":-0.250,"m":-0.06,"c":0.11,"t":0.15},{"x":-0.246,"m":0.13,"c":0.03,"t":0.02},{"x":-0.242,"m":0.17,"c":0.16,"t":0.19},
      {"x":-0.238,"m":0.00,"c":-0.06,"t":-0.03},{"x":-0.234,"m":0.07,"c":0.09,"t":0.08},{"x":-0.230,"m":0.20,"c":0.05,"t":0.21},{"x":-0.226,"m":-0.03,"c":0.14,"t":0.04},{"x":-0.222,"m":0.10,"c":0.01,"t":-0.07},{"x":-0.218,"m":0.02,"c":0.18,"t":0.12},{"x":-0.214,"m":0.15,"c":-0.05,"t":0.16},{"x":-0.210,"m":-0.07,"c":0.07,"t":-0.02},{"x":-0.206,"m":0.08,"c":0.20,"t":0.05},{"x":-0.202,"m":0.04,"c":0.03,"t":0.18},
      {"x":-0.596,"m":0.22,"c":0.14,"t":0.24},{"x":-0.588,"m":0.31,"c":0.34,"t":0.17},{"x":-0.580,"m":0.13,"c":0.11,"t":0.33},{"x":-0.572,"m":0.35,"c":0.24,"t":0.12},{"x":-0.564,"m":0.24,"c":0.05,"t":0.26},{"x":-0.556,"m":0.17,"c":0.27,"t":0.17},{"x":-0.548,"m":0.36,"c":0.20,"t":0.27},{"x":-0.540,"m":0.14,"c":0.14,"t":0.08},{"x":-0.532,"m":0.27,"c":0.29,"t":0.30},{"x":-0.524,"m":0.07,"c":0.08,"t":0.20},
      {"x":-0.516,"m":0.30,"c":0.23,"t":0.12},{"x":-0.508,"m":0.22,"c":0.14,"t":0.32},{"x":-0.500,"m":0.16,"c":0.23,"t":0.10},{"x":-0.492,"m":0.32,"c":0.05,"t":0.22},{"x":-0.484,"m":0.10,"c":0.27,"t":0.03},{"x":-0.476,"m":0.25,"c":0.16,"t":0.26},{"x":-0.468,"m":0.15,"c":0.09,"t":0.18},{"x":-0.460,"m":0.25,"c":0.29,"t":0.12},{"x":-0.452,"m":0.07,"c":0.06,"t":0.28},{"x":-0.444,"m":0.28,"c":0.19,"t":0.06},
      {"x":-0.436,"m":0.18,"c":0.00,"t":0.21},{"x":-0.428,"m":0.10,"c":0.23,"t":0.12},{"x":-0.420,"m":0.30,"c":0.15,"t":0.21},{"x":-0.412,"m":0.08,"c":0.09,"t":0.03},{"x":-0.404,"m":0.20,"c":0.25,"t":0.25},{"x":-0.396,"m":0.01,"c":0.03,"t":0.14},{"x":-0.388,"m":0.23,"c":0.18,"t":0.07},{"x":-0.380,"m":0.16,"c":0.09,"t":0.27},{"x":-0.372,"m":0.10,"c":0.18,"t":0.04},{"x":-0.364,"m":0.25,"c":0.00,"t":0.17},
      {"x":-0.356,"m":0.04,"c":0.22,"t":-0.02},{"x":-0.348,"m":0.18,"c":0.12,"t":0.20},{"x":-0.340,"m":0.09,"c":0.04,"t":0.13},{"x":-0.332,"m":0.19,"c":0.24,"t":0.07},{"x":-0.324,"m":0.00,"c":0.02,"t":0.22},{"x":-0.316,"m":0.22,"c":0.14,"t":0.01},{"x":-0.308,"m":0.11,"c":-0.05,"t":0.16},{"x":-0.300,"m":0.04,"c":0.18,"t":0.06},{"x":-0.292,"m":0.24,"c":0.10,"t":0.16},{"x":-0.284,"m":0.01,"c":0.04,"t":-0.02},
      {"x":-0.276,"m":0.14,"c":0.20,"t":0.19},{"x":-0.268,"m":-0.06,"c":-0.01,"t":0.09},{"x":-0.260,"m":0.17,"c":0.13,"t":0.02},{"x":-0.252,"m":0.10,"c":0.04,"t":0.21},{"x":-0.244,"m":0.03,"c":0.14,"t":-0.01},{"x":-0.236,"m":0.19,"c":-0.05,"t":0.12},{"x":-0.228,"m":-0.03,"c":0.17,"t":-0.08},{"x":-0.220,"m":0.12,"c":0.07,"t":0.15},{"x":-0.212,"m":0.03,"c":-0.01,"t":0.08},{"x":-0.204,"m":0.12,"c":0.19,"t":0.01},
      {"x":-2.81,"m":1.19},{"x":-2.68,"m":1.08},{"x":-2.67,"m":1.01},{"x":-2.55,"m":1.10},{"x":-2.552,"m":0.89},{"x":-2.48,"m":0.70},{"x":-2.43,"m":0.82},{"x":-2.27,"m":0.77},{"x":-1.90,"m":0.83},{"x":-1.33,"m":0.81},{"x":-3.38,"m":0.76},{"x":-3.20,"m":0.75},{"x":-3.26,"m":0.61},{"x":-3.20,"m":-0.12},{"x":-2.67,"m":-0.10},{"x":-2.09,"m":-0.24},{"x":-2.24,"m":-0.12},{"x":-3.23,"m":0.0},{"x":-2.92,"m":0.08},{"x":-2.53,"m":-0.02},{"x":-1.80,"m":0.62},{"x":-1.02,"m":0.60},
      {"x":-3.35,"c":1.10},{"x":-3.36,"c":0.82},{"x":-3.17,"c":1.12},{"x":-3.12,"c":0.78},{"x":-2.91,"c":1.18},{"x":-2.80,"c":1.02},{"x":-2.75,"c":0.88},{"x":-2.65,"c":1.03},{"x":-2.57,"c":0.80},{"x":-2.55,"c":0.90},{"x":-2.31,"c":0.89},{"x":-2.27,"c":0.82},{"x":-2.31,"c":-0.16},{"x":-2.12,"c":0.62},{"x":-2.00,"c":0.63},{"x":-2.09,"c":-0.16},{"x":-1.74,"c":-0.16},{"x":-1.44,"c":0.61},{"x":-1.25,"c":0.50},{"x":-1.245,"c":0.44},{"x":-1.34,"c":-0.21},{"x":-0.41,"c":0.96},{"x":-0.37,"c":-0.14},{"x":-3.34,"c":-0.03},{"x":-0.94,"c":0.45},{"x":-0.98,"c":0.08},
      {"x":-2.96,"t":1.05},{"x":-2.91,"t":0.87},{"x":-2.94,"t":0.75},{"x":-3.37,"t":0.79},{"x":-3.25,"t":0.72},{"x":-3.01,"t":-0.03},{"x":-2.73,"t":-0.10},{"x":-2.64,"t":-0.19},{"x":-2.49,"t":-0.06},{"x":-2.31,"t":-0.16},{"x":-2.09,"t":-0.19},{"x":-1.74,"t":0.68},{"x":-1.93,"t":0.68},{"x":-1.87,"t":0.64},{"x":-1.74,"t":-0.29},{"x":-1.34,"t":0.94},{"x":-1.338,"t":0.89},{"x":-1.33,"t":0.86},{"x":-1.30,"t":0.74},{"x":-1.23,"t":0.75},{"x":-0.93,"t":0.58},{"x":-0.36,"t":0.53}
    ],
    "stars": [
      {"p":"Mg","x":-2.86,"y":0.24,"s":"circle","g":"old"},{"p":"Mg","x":-2.81,"y":0.49,"s":"circle","g":"old"},{"p":"Mg","x":-2.70,"y":0.29,"s":"asterisk","g":"old"},{"p":"Mg","x":-2.48,"y":0.40,"s":"asterisk","g":"old"},{"p":"Mg","x":-2.49,"y":0.38,"s":"square","g":"old"},{"p":"Mg","x":-2.30,"y":0.20,"s":"square","g":"old"},{"p":"Mg","x":-2.27,"y":0.02,"s":"square","g":"old"},{"p":"Mg","x":-2.152,"y":-0.335,"s":"circle","g":"old"},{"p":"Mg","x":-1.973,"y":-0.45,"s":"square","g":"old"},{"p":"Mg","x":-1.925,"y":0.05,"s":"triangle","g":"old"},{"p":"Mg","x":-1.705,"y":0.26,"s":"square","g":"old"},{"p":"Mg","x":-1.653,"y":0.39,"s":"square","g":"old"},{"p":"Mg","x":-1.731,"y":0.09,"s":"square","g":"old"},{"p":"Mg","x":-1.782,"y":-0.06,"s":"asterisk","g":"old"},{"p":"Mg","x":-1.764,"y":-0.21,"s":"square","g":"old"},{"p":"Mg","x":-1.633,"y":-0.27,"s":"triangle","g":"old"},{"p":"Mg","x":-1.555,"y":-0.16,"s":"square","g":"old"},{"p":"Mg","x":-1.524,"y":-0.19,"s":"square","g":"old"},{"p":"Mg","x":-1.493,"y":0.07,"s":"square","g":"old"},{"p":"Mg","x":-1.568,"y":0.19,"s":"square","g":"old"},{"p":"Mg","x":-1.305,"y":-0.48,"s":"circle","g":"old"},
      {"p":"Mg","x":-1.751,"y":0.28,"s":"circle","g":"young"},{"p":"Mg","x":-1.615,"y":0.22,"s":"square","g":"young"},{"p":"Mg","x":-1.532,"y":0.38,"s":"square","g":"young"},{"p":"Mg","x":-1.542,"y":0.24,"s":"circle","g":"young"},{"p":"Mg","x":-1.524,"y":0.20,"s":"circle","g":"young"},{"p":"Mg","x":-1.454,"y":0.25,"s":"square","g":"young"},{"p":"Mg","x":-1.467,"y":0.13,"s":"square","g":"young"},{"p":"Mg","x":-1.395,"y":0.24,"s":"triangle","g":"young"},{"p":"Mg","x":-1.375,"y":0.37,"s":"square","g":"young"},{"p":"Mg","x":-1.375,"y":0.28,"s":"square","g":"young"},{"p":"Mg","x":-1.369,"y":0.22,"s":"circle","g":"young"},{"p":"Mg","x":-1.343,"y":0.17,"s":"circle","g":"young"},{"p":"Mg","x":-1.305,"y":0.11,"s":"circle","g":"young"},{"p":"Mg","x":-1.351,"y":-0.06,"s":"asterisk","g":"young"},{"p":"Mg","x":-1.224,"y":0.0,"s":"square","g":"young"},{"p":"Mg","x":-1.165,"y":0.21,"s":"square","g":"young"},{"p":"Mg","x":-1.196,"y":-0.96,"s":"square","g":"young"},
      {"p":"Ca","x":-2.86,"y":0.17,"s":"circle","g":"old"},{"p":"Ca","x":-2.81,"y":-0.04,"s":"circle","g":"old"},{"p":"Ca","x":-2.70,"y":0.69,"s":"asterisk","g":"old"},{"p":"Ca","x":-2.49,"y":0.16,"s":"square","g":"old"},{"p":"Ca","x":-2.48,"y":0.08,"s":"asterisk","g":"old"},{"p":"Ca","x":-2.30,"y":0.15,"s":"square","g":"old"},{"p":"Ca","x":-2.27,"y":-0.32,"s":"square","g":"old"},{"p":"Ca","x":-2.152,"y":-0.02,"s":"circle","g":"old"},{"p":"Ca","x":-2.026,"y":-0.05,"s":"square","g":"old"},{"p":"Ca","x":-1.973,"y":-0.14,"s":"square","g":"old"},{"p":"Ca","x":-1.973,"y":0.38,"s":"square","g":"old"},{"p":"Ca","x":-1.925,"y":-0.02,"s":"triangle","g":"old"},{"p":"Ca","x":-1.782,"y":0.13,"s":"asterisk","g":"old"},{"p":"Ca","x":-1.762,"y":-0.01,"s":"square","g":"old"},{"p":"Ca","x":-1.731,"y":0.32,"s":"square","g":"old"},{"p":"Ca","x":-1.712,"y":0.14,"s":"square","g":"old"},{"p":"Ca","x":-1.705,"y":-0.01,"s":"square","g":"old"},{"p":"Ca","x":-1.653,"y":0.11,"s":"square","g":"old"},{"p":"Ca","x":-1.635,"y":-0.10,"s":"triangle","g":"old"},{"p":"Ca","x":-1.568,"y":0.02,"s":"square","g":"old"},{"p":"Ca","x":-1.524,"y":-0.22,"s":"square","g":"old"},{"p":"Ca","x":-1.305,"y":-0.18,"s":"circle","g":"old"},
      {"p":"Ca","x":-1.751,"y":0.09,"s":"circle","g":"young"},{"p":"Ca","x":-1.615,"y":0.12,"s":"square","g":"young"},{"p":"Ca","x":-1.532,"y":0.15,"s":"circle","g":"young"},{"p":"Ca","x":-1.465,"y":0.05,"s":"square","g":"young"},{"p":"Ca","x":-1.40,"y":0.12,"s":"triangle","g":"young"},{"p":"Ca","x":-1.375,"y":0.23,"s":"square","g":"young"},{"p":"Ca","x":-1.351,"y":0.29,"s":"asterisk","g":"young"},{"p":"Ca","x":-1.351,"y":0.10,"s":"circle","g":"young"},{"p":"Ca","x":-1.325,"y":0.18,"s":"square","g":"young"},{"p":"Ca","x":-1.37,"y":0.12,"s":"square","g":"young"},{"p":"Ca","x":-1.305,"y":-0.07,"s":"circle","g":"young"},{"p":"Ca","x":-1.224,"y":-0.05,"s":"square","g":"young"},{"p":"Ca","x":-1.165,"y":-0.04,"s":"square","g":"young"},{"p":"Ca","x":-1.196,"y":0.20,"s":"square","g":"young"},
      {"p":"Ti","x":-2.86,"y":0.35,"s":"circle","g":"old"},{"p":"Ti","x":-2.80,"y":0.34,"s":"circle","g":"old"},{"p":"Ti","x":-2.70,"y":0.40,"s":"asterisk","g":"old"},{"p":"Ti","x":-2.48,"y":0.31,"s":"asterisk","g":"old"},{"p":"Ti","x":-2.152,"y":0.05,"s":"circle","g":"old"},{"p":"Ti","x":-1.925,"y":0.19,"s":"triangle","g":"old"},{"p":"Ti","x":-1.782,"y":-0.05,"s":"asterisk","g":"old"},{"p":"Ti","x":-1.635,"y":-0.09,"s":"triangle","g":"old"},{"p":"Ti","x":-1.305,"y":-0.36,"s":"circle","g":"old"},
      {"p":"Ti","x":-1.751,"y":0.0,"s":"circle","g":"young"},{"p":"Ti","x":-1.532,"y":0.21,"s":"circle","g":"young"},{"p":"Ti","x":-1.40,"y":0.07,"s":"triangle","g":"young"},{"p":"Ti","x":-1.343,"y":0.05,"s":"asterisk","g":"young"},{"p":"Ti","x":-1.351,"y":0.01,"s":"circle","g":"young"},{"p":"Ti","x":-1.305,"y":0.20,"s":"circle","g":"young"}
    ],
    "err": [
      {"p":"Mg","x":-0.505,"y":-0.49,"xlo":-0.605,"xhi":-0.405,"ylo":-0.69,"yhi":-0.29},
      {"p":"Ca","x":-0.505,"y":-0.40,"xlo":-0.605,"xhi":-0.405,"ylo":-0.55,"yhi":-0.25},
      {"p":"Ti","x":-0.505,"y":-0.39,"xlo":-0.605,"xhi":-0.405,"ylo":-0.54,"yhi":-0.24}
    ],
    "ann": [
      {"x":-2.10,"y":0.553,"label":"524"},
      {"x":-2.596,"y":-0.35,"label":"5070"},
      {"x":-1.154,"y":-0.473,"label":"612"}
    ],
    "leaders": [
      {"x":-1.899,"x2":-1.817,"y":0.476,"y2":0.365},
      {"x":-2.291,"x2":-2.209,"y":-0.335,"y2":-0.335},
      {"x":-1.253,"x2":-1.193,"y":-0.475,"y2":-0.475}
    ]
  },
  "vconcat": [
    {
      "width": 412, "height": 136,
      "resolve": {"axis": {"x": "independent", "y": "independent"}},
      "layer": [
        {"data": {"name": "gray"}, "mark": {"type": "circle", "size": 9, "color": "#b3b3b3", "opacity": 1},
         "encoding": {
           "x": {"field": "x", "type": "quantitative", "scale": {"domain": [-3.4, -0.2], "nice": false, "zero": false}, "axis": {"orient": "bottom", "values": [-3, -2, -1], "tickSize": -8, "labels": false, "title": null}},
           "y": {"field": "m", "type": "quantitative", "scale": {"domain": [-1.1, 1.3], "nice": false, "zero": false}, "axis": {"orient": "left", "values": [-1, 0, 1], "tickSize": -8, "labelPadding": 16, "format": "d", "title": "[Mg/Fe]", "titlePadding": 3}}}},
        {"data": {"values": [{"z": 0}]}, "mark": {"type": "rule", "strokeDash": [1, 3], "color": "#888888", "strokeWidth": 1},
         "encoding": {"y": {"field": "z", "type": "quantitative", "scale": {"domain": [-1.1, 1.3], "nice": false, "zero": false}, "axis": null}}},
        {"data": {"name": "stars"}, "transform": [{"filter": "datum.p === 'Mg'"}],
         "mark": {"type": "point", "filled": true, "strokeWidth": 0, "opacity": 1},
         "encoding": {
           "x": {"field": "x", "type": "quantitative", "scale": {"domain": [-3.4, -0.2], "nice": false, "zero": false}, "axis": {"orient": "bottom", "values": [-3.2, -2.8, -2.6, -2.4, -2.2, -1.8, -1.6, -1.4, -1.2, -0.8, -0.6, -0.4], "tickSize": -4.5, "labels": false, "title": null}},
           "y": {"field": "y", "type": "quantitative", "scale": {"domain": [-1.1, 1.3], "nice": false, "zero": false}, "axis": {"orient": "left", "values": [-0.8, -0.6, -0.4, -0.2, 0.2, 0.4, 0.6, 0.8, 1.2], "tickSize": -4.5, "labels": false, "title": null}},
           "shape": {"field": "s", "type": "nominal", "scale": {"domain": ["circle", "triangle", "asterisk", "square"], "range": ["circle", "triangle-up", "M-1,-0.12L1,-0.12L1,0.12L-1,0.12ZM-0.504,-0.872L0.696,0.728L0.504,0.872L-0.696,-0.728ZM-0.696,0.728L0.504,-0.872L0.696,-0.728L-0.504,0.872Z", "square"]}, "legend": null},
           "size": {"field": "s", "type": "ordinal", "scale": {"domain": ["circle", "triangle", "asterisk", "square"], "range": [52, 46, 81, 25]}, "legend": null},
           "fill": {"field": "g", "type": "nominal", "scale": {"domain": ["old", "young"], "range": ["#ff0000", "#0000ff"]}, "legend": null}}},
        {"data": {"name": "err"}, "transform": [{"filter": "datum.p === 'Mg'"}], "mark": {"type": "rule", "color": "#7a7a7a", "strokeWidth": 1},
         "encoding": {
           "x": {"field": "xlo", "type": "quantitative", "scale": {"domain": [-3.4, -0.2], "nice": false, "zero": false}, "axis": {"orient": "top", "values": [-3, -2, -1], "tickSize": -8, "labels": false, "title": null}},
           "x2": {"field": "xhi"},
           "y": {"field": "y", "type": "quantitative", "scale": {"domain": [-1.1, 1.3], "nice": false, "zero": false}, "axis": {"orient": "right", "values": [-1, 0, 1], "tickSize": -8, "labels": false, "title": null}}}},
        {"data": {"name": "err"}, "transform": [{"filter": "datum.p === 'Mg'"}], "mark": {"type": "rule", "color": "#7a7a7a", "strokeWidth": 1},
         "encoding": {
           "x": {"field": "x", "type": "quantitative", "scale": {"domain": [-3.4, -0.2], "nice": false, "zero": false}, "axis": {"orient": "top", "values": [-3.2, -2.8, -2.6, -2.4, -2.2, -1.8, -1.6, -1.4, -1.2, -0.8, -0.6, -0.4], "tickSize": -4.5, "labels": false, "title": null}},
           "y": {"field": "ylo", "type": "quantitative", "scale": {"domain": [-1.1, 1.3], "nice": false, "zero": false}, "axis": {"orient": "right", "values": [-0.8, -0.6, -0.4, -0.2, 0.2, 0.4, 0.6, 0.8, 1.2], "tickSize": -4.5, "labels": false, "title": null}},
           "y2": {"field": "yhi"}}},
        {"data": {"name": "err"}, "transform": [{"filter": "datum.p === 'Mg'"}], "mark": {"type": "tick", "orient": "vertical", "size": 4, "thickness": 1, "color": "#7a7a7a"},
         "encoding": {"x": {"field": "xlo", "type": "quantitative", "scale": {"domain": [-3.4, -0.2], "nice": false, "zero": false}, "axis": null}, "y": {"field": "y", "type": "quantitative", "scale": {"domain": [-1.1, 1.3], "nice": false, "zero": false}, "axis": null}}},
        {"data": {"name": "err"}, "transform": [{"filter": "datum.p === 'Mg'"}], "mark": {"type": "tick", "orient": "vertical", "size": 4, "thickness": 1, "color": "#7a7a7a"},
         "encoding": {"x": {"field": "xhi", "type": "quantitative", "scale": {"domain": [-3.4, -0.2], "nice": false, "zero": false}, "axis": null}, "y": {"field": "y", "type": "quantitative", "scale": {"domain": [-1.1, 1.3], "nice": false, "zero": false}, "axis": null}}},
        {"data": {"name": "err"}, "transform": [{"filter": "datum.p === 'Mg'"}], "mark": {"type": "tick", "orient": "horizontal", "size": 4, "thickness": 1, "color": "#7a7a7a"},
         "encoding": {"x": {"field": "x", "type": "quantitative", "scale": {"domain": [-3.4, -0.2], "nice": false, "zero": false}, "axis": null}, "y": {"field": "ylo", "type": "quantitative", "scale": {"domain": [-1.1, 1.3], "nice": false, "zero": false}, "axis": null}}},
        {"data": {"name": "err"}, "transform": [{"filter": "datum.p === 'Mg'"}], "mark": {"type": "tick", "orient": "horizontal", "size": 4, "thickness": 1, "color": "#7a7a7a"},
         "encoding": {"x": {"field": "x", "type": "quantitative", "scale": {"domain": [-3.4, -0.2], "nice": false, "zero": false}, "axis": null}, "y": {"field": "yhi", "type": "quantitative", "scale": {"domain": [-1.1, 1.3], "nice": false, "zero": false}, "axis": null}}},
        {"data": {"name": "ann"}, "mark": {"type": "text", "align": "left", "baseline": "middle", "font": "DejaVu Serif", "fontSize": 12, "color": "#111111"},
         "encoding": {
           "x": {"field": "x", "type": "quantitative", "scale": {"domain": [-3.4, -0.2], "nice": false, "zero": false}, "axis": null},
           "y": {"field": "y", "type": "quantitative", "scale": {"domain": [-1.1, 1.3], "nice": false, "zero": false}, "axis": null},
           "text": {"field": "label"}}},
        {"data": {"name": "leaders"}, "mark": {"type": "rule", "color": "#111111", "strokeWidth": 1},
         "encoding": {
           "x": {"field": "x", "type": "quantitative", "scale": {"domain": [-3.4, -0.2], "nice": false, "zero": false}, "axis": null},
           "x2": {"field": "x2"},
           "y": {"field": "y", "type": "quantitative", "scale": {"domain": [-1.1, 1.3], "nice": false, "zero": false}, "axis": null},
           "y2": {"field": "y2"}}}
      ]
    },
    {
      "width": 412, "height": 136,
      "resolve": {"axis": {"x": "independent", "y": "independent"}},
      "layer": [
        {"data": {"name": "gray"}, "mark": {"type": "circle", "size": 9, "color": "#b3b3b3", "opacity": 1},
         "encoding": {
           "x": {"field": "x", "type": "quantitative", "scale": {"domain": [-3.4, -0.2], "nice": false, "zero": false}, "axis": {"orient": "bottom", "values": [-3, -2, -1], "tickSize": -8, "labels": false, "title": null}},
           "y": {"field": "c", "type": "quantitative", "scale": {"domain": [-1.1, 1.3], "nice": false, "zero": false}, "axis": {"orient": "left", "values": [-1, 0, 1], "tickSize": -8, "labelPadding": 16, "format": "d", "title": "[Ca/Fe]", "titlePadding": 3}}}},
        {"data": {"values": [{"z": 0}]}, "mark": {"type": "rule", "strokeDash": [1, 3], "color": "#888888", "strokeWidth": 1},
         "encoding": {"y": {"field": "z", "type": "quantitative", "scale": {"domain": [-1.1, 1.3], "nice": false, "zero": false}, "axis": null}}},
        {"data": {"name": "stars"}, "transform": [{"filter": "datum.p === 'Ca'"}],
         "mark": {"type": "point", "filled": true, "strokeWidth": 0, "opacity": 1},
         "encoding": {
           "x": {"field": "x", "type": "quantitative", "scale": {"domain": [-3.4, -0.2], "nice": false, "zero": false}, "axis": {"orient": "bottom", "values": [-3.2, -2.8, -2.6, -2.4, -2.2, -1.8, -1.6, -1.4, -1.2, -0.8, -0.6, -0.4], "tickSize": -4.5, "labels": false, "title": null}},
           "y": {"field": "y", "type": "quantitative", "scale": {"domain": [-1.1, 1.3], "nice": false, "zero": false}, "axis": {"orient": "left", "values": [-0.8, -0.6, -0.4, -0.2, 0.2, 0.4, 0.6, 0.8, 1.2], "tickSize": -4.5, "labels": false, "title": null}},
           "shape": {"field": "s", "type": "nominal", "scale": {"domain": ["circle", "triangle", "asterisk", "square"], "range": ["circle", "triangle-up", "M-1,-0.12L1,-0.12L1,0.12L-1,0.12ZM-0.504,-0.872L0.696,0.728L0.504,0.872L-0.696,-0.728ZM-0.696,0.728L0.504,-0.872L0.696,-0.728L-0.504,0.872Z", "square"]},
             "legend": {"orient": "bottom-right", "direction": "horizontal", "title": "age > 10 Gyr", "titleOrient": "left", "titleBaseline": "middle", "titleFont": "DejaVu Serif", "titleFontSize": 12, "titleFontWeight": "normal", "titleColor": "#111111", "titlePadding": 13, "labelExpr": "''", "labelOffset": 0, "labelFontSize": 1, "columnPadding": 3, "offset": 13, "padding": 0, "symbolFillColor": "#ff0000", "symbolStrokeWidth": 0, "encode": {"symbols": {"update": {"fill": {"value": "#ff0000"}, "strokeWidth": {"value": 0}}}}}},
           "size": {"field": "s", "type": "ordinal", "scale": {"domain": ["circle", "triangle", "asterisk", "square"], "range": [52, 46, 81, 25]},
             "legend": {"orient": "bottom-right", "direction": "horizontal", "title": "age > 10 Gyr", "titleOrient": "left", "titleBaseline": "middle", "titleFont": "DejaVu Serif", "titleFontSize": 12, "titleFontWeight": "normal", "titleColor": "#111111", "titlePadding": 13, "labelExpr": "''", "labelOffset": 0, "labelFontSize": 1, "columnPadding": 3, "offset": 13, "padding": 0, "symbolFillColor": "#ff0000", "symbolStrokeWidth": 0, "encode": {"symbols": {"update": {"fill": {"value": "#ff0000"}, "strokeWidth": {"value": 0}}}}}},
           "fill": {"field": "g", "type": "nominal", "scale": {"domain": ["old", "young"], "range": ["#ff0000", "#0000ff"]}, "legend": null}}},
        {"data": {"name": "err"}, "transform": [{"filter": "datum.p === 'Ca'"}], "mark": {"type": "rule", "color": "#7a7a7a", "strokeWidth": 1},
         "encoding": {
           "x": {"field": "xlo", "type": "quantitative", "scale": {"domain": [-3.4, -0.2], "nice": false, "zero": false}, "axis": {"orient": "top", "values": [-3, -2, -1], "tickSize": -8, "labels": false, "title": null}},
           "x2": {"field": "xhi"},
           "y": {"field": "y", "type": "quantitative", "scale": {"domain": [-1.1, 1.3], "nice": false, "zero": false}, "axis": {"orient": "right", "values": [-1, 0, 1], "tickSize": -8, "labels": false, "title": null}}}},
        {"data": {"name": "err"}, "transform": [{"filter": "datum.p === 'Ca'"}], "mark": {"type": "rule", "color": "#7a7a7a", "strokeWidth": 1},
         "encoding": {
           "x": {"field": "x", "type": "quantitative", "scale": {"domain": [-3.4, -0.2], "nice": false, "zero": false}, "axis": {"orient": "top", "values": [-3.2, -2.8, -2.6, -2.4, -2.2, -1.8, -1.6, -1.4, -1.2, -0.8, -0.6, -0.4], "tickSize": -4.5, "labels": false, "title": null}},
           "y": {"field": "ylo", "type": "quantitative", "scale": {"domain": [-1.1, 1.3], "nice": false, "zero": false}, "axis": {"orient": "right", "values": [-0.8, -0.6, -0.4, -0.2, 0.2, 0.4, 0.6, 0.8, 1.2], "tickSize": -4.5, "labels": false, "title": null}},
           "y2": {"field": "yhi"}}},
        {"data": {"name": "err"}, "transform": [{"filter": "datum.p === 'Ca'"}], "mark": {"type": "tick", "orient": "vertical", "size": 4, "thickness": 1, "color": "#7a7a7a"},
         "encoding": {"x": {"field": "xlo", "type": "quantitative", "scale": {"domain": [-3.4, -0.2], "nice": false, "zero": false}, "axis": null}, "y": {"field": "y", "type": "quantitative", "scale": {"domain": [-1.1, 1.3], "nice": false, "zero": false}, "axis": null}}},
        {"data": {"name": "err"}, "transform": [{"filter": "datum.p === 'Ca'"}], "mark": {"type": "tick", "orient": "vertical", "size": 4, "thickness": 1, "color": "#7a7a7a"},
         "encoding": {"x": {"field": "xhi", "type": "quantitative", "scale": {"domain": [-3.4, -0.2], "nice": false, "zero": false}, "axis": null}, "y": {"field": "y", "type": "quantitative", "scale": {"domain": [-1.1, 1.3], "nice": false, "zero": false}, "axis": null}}},
        {"data": {"name": "err"}, "transform": [{"filter": "datum.p === 'Ca'"}], "mark": {"type": "tick", "orient": "horizontal", "size": 4, "thickness": 1, "color": "#7a7a7a"},
         "encoding": {"x": {"field": "x", "type": "quantitative", "scale": {"domain": [-3.4, -0.2], "nice": false, "zero": false}, "axis": null}, "y": {"field": "ylo", "type": "quantitative", "scale": {"domain": [-1.1, 1.3], "nice": false, "zero": false}, "axis": null}}},
        {"data": {"name": "err"}, "transform": [{"filter": "datum.p === 'Ca'"}], "mark": {"type": "tick", "orient": "horizontal", "size": 4, "thickness": 1, "color": "#7a7a7a"},
         "encoding": {"x": {"field": "x", "type": "quantitative", "scale": {"domain": [-3.4, -0.2], "nice": false, "zero": false}, "axis": null}, "y": {"field": "yhi", "type": "quantitative", "scale": {"domain": [-1.1, 1.3], "nice": false, "zero": false}, "axis": null}}}
      ]
    },
    {
      "width": 412, "height": 136,
      "resolve": {"axis": {"x": "independent", "y": "independent"}},
      "layer": [
        {"data": {"name": "gray"}, "mark": {"type": "circle", "size": 9, "color": "#b3b3b3", "opacity": 1},
         "encoding": {
           "x": {"field": "x", "type": "quantitative", "scale": {"domain": [-3.4, -0.2], "nice": false, "zero": false}, "axis": {"orient": "bottom", "values": [-3, -2, -1], "tickSize": -8, "labelPadding": 14, "format": "d", "title": "[Fe/H]", "titlePadding": 3}},
           "y": {"field": "t", "type": "quantitative", "scale": {"domain": [-1.1, 1.3], "nice": false, "zero": false}, "axis": {"orient": "left", "values": [-1, 0, 1], "tickSize": -8, "labelPadding": 16, "format": "d", "title": "[Ti/Fe]", "titlePadding": 3}}}},
        {"data": {"values": [{"z": 0}]}, "mark": {"type": "rule", "strokeDash": [1, 3], "color": "#888888", "strokeWidth": 1},
         "encoding": {"y": {"field": "z", "type": "quantitative", "scale": {"domain": [-1.1, 1.3], "nice": false, "zero": false}, "axis": null}}},
        {"data": {"name": "stars"}, "transform": [{"filter": "datum.p === 'Ti'"}],
         "mark": {"type": "point", "filled": true, "strokeWidth": 0, "opacity": 1},
         "encoding": {
           "x": {"field": "x", "type": "quantitative", "scale": {"domain": [-3.4, -0.2], "nice": false, "zero": false}, "axis": {"orient": "bottom", "values": [-3.2, -2.8, -2.6, -2.4, -2.2, -1.8, -1.6, -1.4, -1.2, -0.8, -0.6, -0.4], "tickSize": -4.5, "labels": false, "title": null}},
           "y": {"field": "y", "type": "quantitative", "scale": {"domain": [-1.1, 1.3], "nice": false, "zero": false}, "axis": {"orient": "left", "values": [-0.8, -0.6, -0.4, -0.2, 0.2, 0.4, 0.6, 0.8, 1.2], "tickSize": -4.5, "labels": false, "title": null}},
           "shape": {"field": "s", "type": "nominal", "scale": {"domain": ["circle", "triangle", "asterisk", "square"], "range": ["circle", "triangle-up", "M-1,-0.12L1,-0.12L1,0.12L-1,0.12ZM-0.504,-0.872L0.696,0.728L0.504,0.872L-0.696,-0.728ZM-0.696,0.728L0.504,-0.872L0.696,-0.728L-0.504,0.872Z", "square"]},
             "legend": {"orient": "bottom-right", "direction": "horizontal", "title": "age < 6 Gyr", "titleOrient": "left", "titleBaseline": "middle", "titleFont": "DejaVu Serif", "titleFontSize": 12, "titleFontWeight": "normal", "titleColor": "#111111", "titlePadding": 13, "labelExpr": "''", "labelOffset": 0, "labelFontSize": 1, "columnPadding": 3, "offset": 13, "padding": 0, "symbolFillColor": "#0000ff", "symbolStrokeWidth": 0, "encode": {"symbols": {"update": {"fill": {"value": "#0000ff"}, "strokeWidth": {"value": 0}}}}}},
           "size": {"field": "s", "type": "ordinal", "scale": {"domain": ["circle", "triangle", "asterisk", "square"], "range": [52, 46, 81, 25]},
             "legend": {"orient": "bottom-right", "direction": "horizontal", "title": "age < 6 Gyr", "titleOrient": "left", "titleBaseline": "middle", "titleFont": "DejaVu Serif", "titleFontSize": 12, "titleFontWeight": "normal", "titleColor": "#111111", "titlePadding": 13, "labelExpr": "''", "labelOffset": 0, "labelFontSize": 1, "columnPadding": 3, "offset": 13, "padding": 0, "symbolFillColor": "#0000ff", "symbolStrokeWidth": 0, "encode": {"symbols": {"update": {"fill": {"value": "#0000ff"}, "strokeWidth": {"value": 0}}}}}},
           "fill": {"field": "g", "type": "nominal", "scale": {"domain": ["old", "young"], "range": ["#ff0000", "#0000ff"]}, "legend": null}}},
        {"data": {"name": "err"}, "transform": [{"filter": "datum.p === 'Ti'"}], "mark": {"type": "rule", "color": "#7a7a7a", "strokeWidth": 1},
         "encoding": {
           "x": {"field": "xlo", "type": "quantitative", "scale": {"domain": [-3.4, -0.2], "nice": false, "zero": false}, "axis": {"orient": "top", "values": [-3, -2, -1], "tickSize": -8, "labels": false, "title": null}},
           "x2": {"field": "xhi"},
           "y": {"field": "y", "type": "quantitative", "scale": {"domain": [-1.1, 1.3], "nice": false, "zero": false}, "axis": {"orient": "right", "values": [-1, 0, 1], "tickSize": -8, "labels": false, "title": null}}}},
        {"data": {"name": "err"}, "transform": [{"filter": "datum.p === 'Ti'"}], "mark": {"type": "rule", "color": "#7a7a7a", "strokeWidth": 1},
         "encoding": {
           "x": {"field": "x", "type": "quantitative", "scale": {"domain": [-3.4, -0.2], "nice": false, "zero": false}, "axis": {"orient": "top", "values": [-3.2, -2.8, -2.6, -2.4, -2.2, -1.8, -1.6, -1.4, -1.2, -0.8, -0.6, -0.4], "tickSize": -4.5, "labels": false, "title": null}},
           "y": {"field": "ylo", "type": "quantitative", "scale": {"domain": [-1.1, 1.3], "nice": false, "zero": false}, "axis": {"orient": "right", "values": [-0.8, -0.6, -0.4, -0.2, 0.2, 0.4, 0.6, 0.8, 1.2], "tickSize": -4.5, "labels": false, "title": null}},
           "y2": {"field": "yhi"}}},
        {"data": {"name": "err"}, "transform": [{"filter": "datum.p === 'Ti'"}], "mark": {"type": "tick", "orient": "vertical", "size": 4, "thickness": 1, "color": "#7a7a7a"},
         "encoding": {"x": {"field": "xlo", "type": "quantitative", "scale": {"domain": [-3.4, -0.2], "nice": false, "zero": false}, "axis": null}, "y": {"field": "y", "type": "quantitative", "scale": {"domain": [-1.1, 1.3], "nice": false, "zero": false}, "axis": null}}},
        {"data": {"name": "err"}, "transform": [{"filter": "datum.p === 'Ti'"}], "mark": {"type": "tick", "orient": "vertical", "size": 4, "thickness": 1, "color": "#7a7a7a"},
         "encoding": {"x": {"field": "xhi", "type": "quantitative", "scale": {"domain": [-3.4, -0.2], "nice": false, "zero": false}, "axis": null}, "y": {"field": "y", "type": "quantitative", "scale": {"domain": [-1.1, 1.3], "nice": false, "zero": false}, "axis": null}}},
        {"data": {"name": "err"}, "transform": [{"filter": "datum.p === 'Ti'"}], "mark": {"type": "tick", "orient": "horizontal", "size": 4, "thickness": 1, "color": "#7a7a7a"},
         "encoding": {"x": {"field": "x", "type": "quantitative", "scale": {"domain": [-3.4, -0.2], "nice": false, "zero": false}, "axis": null}, "y": {"field": "ylo", "type": "quantitative", "scale": {"domain": [-1.1, 1.3], "nice": false, "zero": false}, "axis": null}}},
        {"data": {"name": "err"}, "transform": [{"filter": "datum.p === 'Ti'"}], "mark": {"type": "tick", "orient": "horizontal", "size": 4, "thickness": 1, "color": "#7a7a7a"},
         "encoding": {"x": {"field": "x", "type": "quantitative", "scale": {"domain": [-3.4, -0.2], "nice": false, "zero": false}, "axis": null}, "y": {"field": "yhi", "type": "quantitative", "scale": {"domain": [-1.1, 1.3], "nice": false, "zero": false}, "axis": null}}}
      ]
    }
  ]
}
